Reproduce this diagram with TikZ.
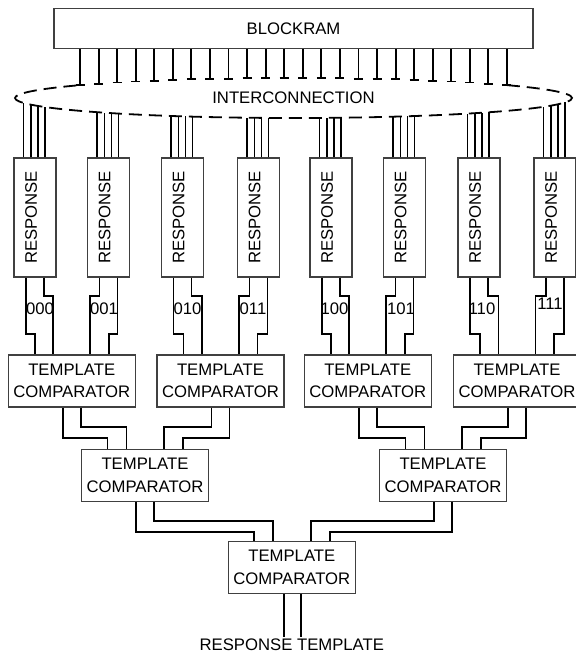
\documentclass[tikz,border=0pt]{standalone}
\usepackage{graphicx}
\usepackage{fontspec}
\setmainfont{Liberation Sans}
\usetikzlibrary{calc}

\newcommand\vlabel[1]{\rotatebox{90}{\rule[-4pt]{0pt}{4pt}#1}}

\tikzset{
	unit/.style={draw=black!75, line width=0.55pt, inner sep=0.5pt},
	respbox/.style={unit, minimum width=21pt, minimum height=59.5pt},
	cmpbox/.style={unit, minimum width=63.5pt, minimum height=26pt, align=center},
	wire/.style={line width=0.95pt},
	busline/.style={line width=0.9pt, dash pattern=on 6.5pt off 3.5pt},
	bits/.style={inner sep=0pt},
}

\begin{document}
\begin{tikzpicture}[x=0.5pt, y=-0.5pt, line join=miter, font=\fontsize{8.35}{11.3}\selectfont]
	\useasboundingbox (0,0) rectangle (575,654);
	
	% memory and interconnection
	\node[unit, minimum width=239.5pt, minimum height=20pt] (bram) at (293.5,28.5) {BLOCKRAM};
	\node (ic) at (293.5,98) {INTERCONNECTION};
	\draw[busline] ($(ic.center)+(-40:278.5 and 20)$)
		arc[start angle=-40, end angle=220, x radius=278.5, y radius=20];
	
	\foreach \i in {0,...,23} {
		\pgfmathsetmacro\xb{80+18.565*\i}
		\pgfmathsetmacro\yb{98-20*sqrt(1-((\xb-293.5)/278.5)^2)}
		\draw[wire] (bram.south -| \xb,0) -- (\xb,\yb) ++(-4.5,0) -- ++(9,0);
	}
	
	% response units
	\foreach \x/\b/\dx/\by [count=\i] in {35/000/5/309, 108.5/001/-4.5/309, 182.5/010/5/309, 258.5/011/-5.5/309,
		331/100/3.5/309, 404.5/101/-3.5/309, 479/110/3/309, 555/111/-5/304} {
		\node[respbox] (r\i) at (\x,217.5) {\vlabel{RESPONSE}};
		\node[bits] (b\i) at (\x+\dx,\by) {\b};
		\foreach \d in {-11.5,-4,3,10} {
			\pgfmathsetmacro\yt{98+20*sqrt(1-((\x+\d-293.5)/278.5)^2)}
			\draw[wire] ($(r\i.north)+(\d,0)$) -- (\x+\d,\yt);
		}
	}
	
	% comparator tree
	\node[cmpbox] (cmp1) at (71.75,381) {TEMPLATE\\COMPARATOR};
	\node[cmpbox] (cmp2) at (220.5,381) {TEMPLATE\\COMPARATOR};
	\node[cmpbox] (cmp3) at (367.75,381) {TEMPLATE\\COMPARATOR};
	\node[cmpbox] (cmp4) at (517,381) {TEMPLATE\\COMPARATOR};
	\node[cmpbox] (mid1) at (145,475.3) {TEMPLATE\\COMPARATOR};
	\node[cmpbox] (mid2) at (443,475.3) {TEMPLATE\\COMPARATOR};
	\node[cmpbox] (fin) at (291.8,567.5) {TEMPLATE\\COMPARATOR};
	\node[anchor=north, inner sep=1pt] (out) at ($(fin.south)+(0,42.5)$) {RESPONSE TEMPLATE};
	
	\foreach \k in {1,...,4} {
		\pgfmathtruncatemacro\lft{2*\k-1}
		\pgfmathtruncatemacro\rgt{2*\k}
		\draw[wire] ($(r\lft.south)+(-9,0)$) -- ++(0,56) -| ($(cmp\k.north)+(-37,0)$);
		\draw[wire] ($(r\lft.south)+(9,0)$) -- ++(0,18) -| ($(cmp\k.north)+(-18.5,0)$);
		\draw[wire] ($(r\rgt.south)+(-9,0)$) -- ++(0,18) -| ($(cmp\k.north)+(18.5,0)$);
		\draw[wire] ($(r\rgt.south)+(9,0)$) -- ++(0,56) -| ($(cmp\k.north)+(37,0)$);
	}
	
	\foreach \a/\c/\m in {cmp1/cmp2/mid1, cmp3/cmp4/mid2, mid1/mid2/fin} {
		\draw[wire] ($(\a.south)+(-9,0)$) -- ++(0,30) -| ($(\m.north)+(-37.5,0)$);
		\draw[wire] ($(\a.south)+(9,0)$) -- ++(0,19.5) -| ($(\m.north)+(-18.5,0)$);
		\draw[wire] ($(\c.south)+(-9,0)$) -- ++(0,19.5) -| ($(\m.north)+(19,0)$);
		\draw[wire] ($(\c.south)+(9,0)$) -- ++(0,30) -| ($(\m.north)+(38,0)$);
	}
	
	\draw[wire] ($(fin.south)+(-8,0)$) -- ($(out.north)+(-8,0)$);
	\draw[wire] ($(fin.south)+(9.5,0)$) -- ($(out.north)+(9.5,0)$);
\end{tikzpicture}
\end{document}
